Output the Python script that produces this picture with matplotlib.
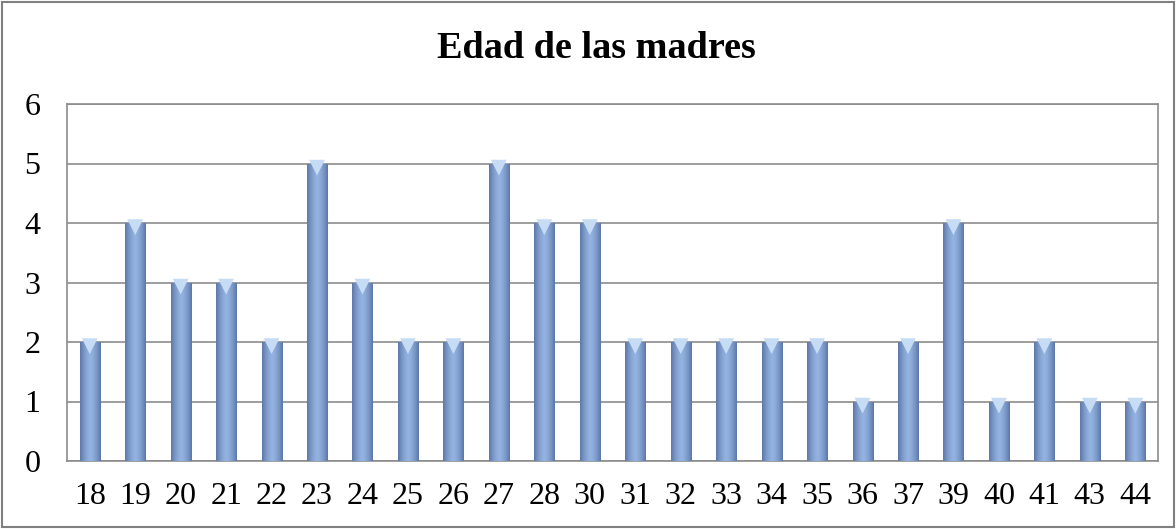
import matplotlib.pyplot as plt
import numpy as np
from matplotlib.patches import Rectangle

# Ages and counts
edades = ['18', '19', '20', '21', '22', '23', '24', '25', '26', '27', '28', '30',
          '31', '32', '33', '34', '35', '36', '37', '39', '40', '41', '43', '44']
frecuencia = [2, 4, 3, 3, 2, 5, 3, 2, 2, 5, 4, 4,
              2, 2, 2, 2, 2, 1, 2, 4, 1, 2, 1, 1]

plt.rcParams['font.family'] = ['Liberation Serif', 'DejaVu Serif']

fig = plt.figure(figsize=(11.76, 5.29), dpi=100)
ax = fig.add_axes([67 / 1176, 68 / 529, (1158 - 67) / 1176, (461 - 104) / 529])

x = np.arange(len(edades))
width = 0.44
bars = ax.bar(x, frecuencia, width=width, color='#7a98c9', edgecolor='none', zorder=2)

# horizontal gradient: dark edges, light centre
grad = np.linspace(-1, 1, 64)
shade = 1 - np.abs(grad) ** 1.5
dark = np.array([0.36, 0.47, 0.66])
light = np.array([0.58, 0.70, 0.88])
img = dark[None, :] + (light - dark)[None, :] * shade[:, None]
img = img[None, :, :]
for b in bars:
    x0, w, h = b.get_x(), b.get_width(), b.get_height()
    im = ax.imshow(img, extent=[x0, x0 + w, 0, h], aspect='auto', zorder=3,
                   interpolation='bilinear')
    im.set_clip_path(b)
    b.set_facecolor('none')

# light bevel at the top of each bar
ax.scatter(x, np.array(frecuencia) - 0.07, marker='v', s=130, color='#c6dcf5',
           edgecolors='none', zorder=4)

ax.set_xlim(-0.5, len(edades) - 0.5)
ax.set_ylim(0, 6)
ax.set_yticks(range(7))
ax.set_xticks(x)
ax.set_xticklabels(edades)
ax.tick_params(axis='both', labelsize=23, length=0, colors='black')
ax.tick_params(axis='x', pad=15)
ax.tick_params(axis='y', pad=19)
ax.grid(axis='y', color='#8c8c8c', linewidth=1.2, zorder=0)
for s in ax.spines.values():
    s.set_color('#8c8c8c')
    s.set_linewidth(1.2)

fig.text(596 / 1176, 1 - 48 / 529, 'Edad de las madres', ha='center', va='center',
         fontsize=27.5, fontweight='bold')

fig.patches.append(Rectangle((0.002, 0.003), 0.996, 0.994, transform=fig.transFigure,
                             fill=False, edgecolor='#808080', linewidth=1.5))

fig.savefig('out.png', dpi=100)
